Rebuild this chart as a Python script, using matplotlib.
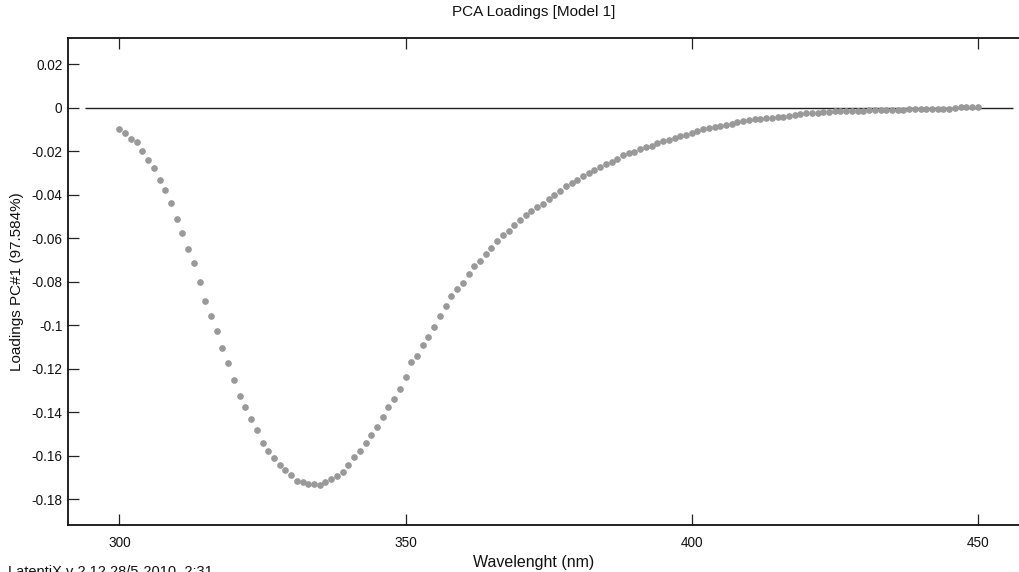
import matplotlib
matplotlib.use("Agg")
import matplotlib.pyplot as plt
import numpy as np

plt.rcParams['font.family'] = ['Liberation Sans', 'DejaVu Sans']

wavelength = list(range(300, 451))
loadings = [
    -0.0099, -0.0116, -0.0144, -0.0160, -0.0199, -0.0239, -0.0279, -0.0334, -0.0379, -0.0440,
    -0.0512, -0.0575, -0.0652, -0.0715, -0.0804, -0.0889, -0.0958, -0.1029, -0.1103, -0.1176,
    -0.1254, -0.1328, -0.1378, -0.1433, -0.1484, -0.1541, -0.1579, -0.1613, -0.1645, -0.1666,
    -0.1691, -0.1717, -0.1723, -0.1729, -0.1729, -0.1735, -0.1723, -0.1708, -0.1696, -0.1674,
    -0.1645, -0.1607, -0.1579, -0.1544, -0.1506, -0.1467, -0.1422, -0.1378, -0.1338, -0.1294,
    -0.1239, -0.1171, -0.1142, -0.1091, -0.1053, -0.1007, -0.0957, -0.0912, -0.0868, -0.0836,
    -0.0806, -0.0763, -0.0730, -0.0707, -0.0673, -0.0644, -0.0612, -0.0584, -0.0566, -0.0540,
    -0.0517, -0.0495, -0.0477, -0.0456, -0.0444, -0.0418, -0.0400, -0.0383, -0.0360, -0.0348,
    -0.0333, -0.0316, -0.0299, -0.0287, -0.0275, -0.0259, -0.0249, -0.0238, -0.0218, -0.0210,
    -0.0203, -0.0192, -0.0180, -0.0175, -0.0164, -0.0155, -0.0147, -0.0141, -0.0132, -0.0126,
    -0.0116, -0.0108, -0.0098, -0.0093, -0.0089, -0.0084, -0.0078, -0.0074, -0.0067, -0.0061,
    -0.0057, -0.0054, -0.0051, -0.0047, -0.0047, -0.0042, -0.0042, -0.0037, -0.0033, -0.0028,
    -0.0025, -0.0024, -0.0024, -0.0019, -0.0019, -0.0017, -0.0014, -0.0014, -0.0014, -0.0014,
    -0.0014, -0.0011, -0.0011, -0.0011, -0.0011, -0.0011, -0.0011, -0.0011, -0.0007, -0.0007,
    -0.0007, -0.0006, -0.0006, -0.0006, -0.0005, -0.0005, -0.0004, 0.0003, 0.0003, 0.0003,
    0.0002,
]

x_ticks = [300, 350, 400, 450]
y_ticks = [0.02, 0, -0.02, -0.04, -0.06, -0.08, -0.1, -0.12, -0.14, -0.16, -0.18]
y_tick_labels = ['0.02', '0', '-0.02', '-0.04', '-0.06', '-0.08', '-0.1', '-0.12', '-0.14', '-0.16', '-0.18']

W, H = 1020, 572
fig = plt.figure(figsize=(W / 100, H / 100), dpi=100)
left_px, right_px, top_px, bottom_px = 68, 1031, 38.3, 525
ax = fig.add_axes([left_px / W, 1 - bottom_px / H, (right_px - left_px) / W, (bottom_px - top_px) / H])

ax.hlines(0, 294, 456.2, color='#222222', linewidth=1.0, zorder=2)
ax.plot(wavelength, loadings, linestyle='none', marker='o', markersize=3.8,
        markerfacecolor='#999999', markeredgecolor='#999999', zorder=3)

ax.set_xlim(291, 459.3)
ax.set_ylim(-0.1919, 0.03186)
ax.set_xticks(x_ticks)
ax.set_xticklabels([str(t) for t in x_ticks])
ax.set_yticks(y_ticks)
ax.set_yticklabels(y_tick_labels)

ax.tick_params(axis='both', direction='in', length=8, width=0.9, color='#222222',
               labelsize=9.8, labelcolor='#111111', top=True, right=True, pad=4)
ax.tick_params(axis='x', pad=8)
for s in ax.spines.values():
    s.set_linewidth(1.3)
    s.set_color('#111111')

fig.text(534 / W, 1 - 12 / H, 'PCA Loadings [Model 1]', ha='center', va='center', fontsize=11, color='#111111')
fig.text(534 / W, 1 - 563 / H, 'Wavelenght (nm)', ha='center', va='center', fontsize=11.5, color='#111111')
fig.text(17 / W, 1 - 282 / H, 'Loadings PC#1 (97.584%)', ha='center', va='center', rotation=90,
         fontsize=11, color='#111111')
fig.text(8 / W, 1 - 565 / H, 'LatentiX v 2.12 28/5-2010  2:31', ha='left', va='top', fontsize=10.5, color='#111111')

fig.savefig('out.png', dpi=100)
